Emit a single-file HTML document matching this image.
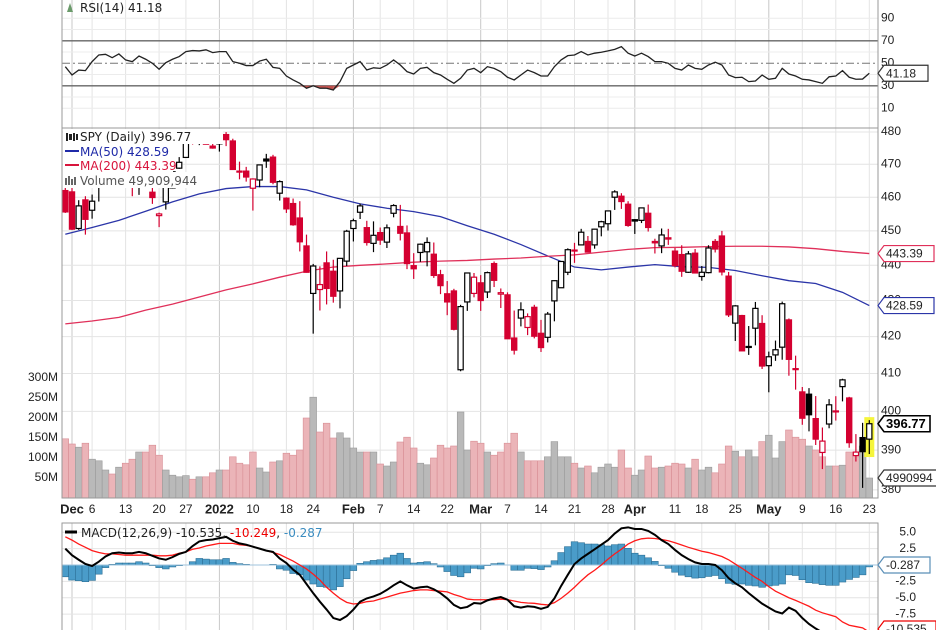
<!DOCTYPE html>
<html><head><meta charset="utf-8">
<style>
html,body{margin:0;padding:0;background:#fff;}
svg{display:block;font-family:"Liberation Sans",sans-serif;}
</style></head>
<body>
<svg id="chart" width="936" height="630" viewBox="0 0 936 630" xmlns="http://www.w3.org/2000/svg">
<defs>
<clipPath id="pclip"><rect x="62" y="129" width="816" height="369"/></clipPath>
<clipPath id="mclip"><rect x="62" y="523" width="816" height="107"/></clipPath>
</defs>
<g id="grid"></g>
<g id="rsi"></g>
<g id="vol" clip-path="url(#pclip)"></g>
<g id="ma" clip-path="url(#pclip)"></g>
<g id="candles" clip-path="url(#pclip)"></g>
<g id="macd" clip-path="url(#mclip)"></g>
<g id="frames">
  <rect x="62" y="-1" width="816" height="129" fill="none" stroke="#999" stroke-width="1"/>
  <rect x="62" y="128" width="816" height="370" fill="none" stroke="#999" stroke-width="1"/>
  <rect x="62" y="523" width="816" height="110" fill="none" stroke="#999" stroke-width="1"/>
</g>
<g id="legend" font-family="DejaVu Sans, sans-serif" font-size="12">
  <rect x="63" y="129" width="160" height="15" fill="#fff"/>
  <rect x="63" y="144" width="112" height="15" fill="#fff"/>
  <rect x="63" y="158" width="110" height="15" fill="#fff"/>
  <rect x="63" y="172" width="128" height="16" fill="#fff"/>
  <text x="80" y="141" fill="#222">SPY (Daily) 396.77</text>
  <g fill="#222"><rect x="66" y="133" width="2" height="8"/><rect x="69" y="134" width="3" height="6"/><rect x="73" y="133" width="2" height="8"/><rect x="76" y="134" width="2" height="6"/></g>
  <line x1="65" y1="151" x2="79" y2="151" stroke="#1f2aa8" stroke-width="2"/>
  <text x="80" y="156" fill="#1f2aa8">MA(50) 428.59</text>
  <line x1="65" y1="165" x2="79" y2="165" stroke="#d8143c" stroke-width="2"/>
  <text x="80" y="170" fill="#d8143c">MA(200) 443.39</text>
  <g fill="#666"><rect x="65" y="178" width="2" height="7"/><rect x="68" y="176" width="2" height="9"/><rect x="71" y="179" width="2" height="6"/><rect x="74" y="177" width="2" height="8"/></g>
  <text x="80" y="185" fill="#555">Volume 49,909,944</text>
</g>
<g id="rsilegend" font-family="DejaVu Sans, sans-serif" font-size="12">
  <polygon points="67,12 70,3 73,12" fill="#6a9a6a"/>
  <text x="80" y="12" fill="#222">RSI(14) 41.18</text>
</g>
<g id="macdlegend" font-family="DejaVu Sans, sans-serif" font-size="12">
  <line x1="65" y1="532" x2="77" y2="532" stroke="#000" stroke-width="3"/>
  <text x="81" y="537"><tspan fill="#222">MACD(12,26,9) -10.535, </tspan><tspan fill="#e00">-10.249</tspan><tspan fill="#222">, </tspan><tspan fill="#3a8cc0">-0.287</tspan></text>
</g>
<g id="axes"></g>
<g id="badges"></g>
</svg>
<script>
const dateLabels = ["Dec","6","13","20","27","2022","10","18","24","Feb","7","14","22","Mar","7","14","21","28","Apr","11","18","25","May","9","16","23"];
const dateLabelIdx = [1,4,9,14,18,23,28,33,37,43,47,52,57,62,66,71,76,81,85,91,95,100,105,110,115,120];
const boldLabels = ["Dec","2022","Feb","Mar","Apr","May"];
const openP = [462.0,461.6,450.7,459.2,456.1,464.4,468.7,468.2,469.2,470.2,463.1,463.4,472.6,461.5,454.5,458.6,462.8,468.8,472.1,477.7,477.0,477.9,475.6,476.3,479.2,477.2,467.9,467.9,462.7,465.2,471.6,472.2,461.2,459.7,458.1,453.8,445.6,432.0,433.1,440.7,438.3,432.7,441.2,450.7,455.5,450.95,446.35,449.5,446.7,455.2,451.3,449.4,439.9,443.7,443.9,443.2,437.3,431.9,432.7,411.0,429.6,432.0,435.0,432.4,440.5,431.8,431.6,419.6,425.1,422.5,428.1,420.9,419.8,429.9,433.6,438.0,444.3,445.9,446.9,445.9,451.2,452.1,460.0,460.3,457.9,453.3,453.1,455.2,446.9,445.6,447.97,444.1,443.1,438.0,443.5,436.8,437.9,446.9,448.5,436.9,423.7,425.8,417.2,422.3,423.6,412.1,415.0,417.1,424.6,411.1,405.1,404.5,398.1,389.4,396.7,399.98,406.5,403.5,388.6,393.2,392.8];
const highP = [464.0,464.7,459.1,460.3,460.8,468.9,470.0,469.6,470.9,470.6,465.7,470.9,472.9,464.2,455.4,463.2,467.8,472.2,477.3,478.8,478.6,479.0,477.0,477.9,479.98,477.9,470.8,469.2,465.7,469.9,473.2,472.9,465.1,459.96,459.6,458.8,448.9,440.4,439.7,444.0,441.6,442.0,450.3,453.6,458.1,452.97,452.8,450.99,451.9,457.9,457.7,451.6,443.5,446.3,448.1,446.6,438.7,435.5,433.3,428.8,437.8,437.8,437.2,438.2,441.1,433.4,432.3,427.2,429.5,426.4,428.8,424.6,426.8,435.7,441.1,444.9,446.5,450.6,448.5,450.6,452.98,455.9,462.1,461.2,458.8,453.5,456.9,457.8,447.7,450.7,450.6,445.0,445.8,444.1,444.7,439.8,445.8,447.6,450.0,438.1,428.7,426.0,422.9,429.6,425.9,415.9,418.9,429.7,425.0,414.8,406.4,406.1,404.0,395.8,403.2,403.97,408.6,403.8,394.1,397.0,397.7];
const lowP = [455.3,450.3,450.3,448.9,453.6,458.7,466.8,466.1,466.5,466.3,460.3,460.7,464.4,458.0,451.1,456.3,462.6,468.6,472.0,476.1,475.9,476.1,474.8,473.9,475.6,468.3,465.4,464.7,456.0,463.0,468.9,463.9,459.0,455.3,451.5,444.0,437.9,420.8,427.2,428.9,429.4,427.8,439.8,446.9,453.5,445.7,443.8,445.9,445.0,454.0,447.2,438.9,436.1,441.0,439.7,436.4,431.8,425.9,421.7,410.6,427.1,430.9,427.1,430.7,433.8,427.9,419.4,415.1,422.8,420.4,419.5,415.8,418.4,424.2,433.8,437.2,440.7,445.9,443.7,444.8,448.4,450.1,456.2,456.5,451.2,449.1,452.3,449.8,443.4,443.5,445.9,439.4,436.7,437.8,437.7,435.6,437.7,443.7,437.1,425.4,418.8,416.1,415.0,417.6,411.2,405.0,413.4,413.7,409.4,405.7,396.5,394.8,391.3,385.2,395.6,397.6,402.6,390.6,387.1,380.5,389.0];
const closeP = [455.6,450.5,457.4,453.4,458.8,468.3,469.5,466.4,470.7,466.6,463.4,470.6,466.5,459.9,455.0,463.1,467.7,470.6,477.3,476.9,477.5,476.2,475.0,477.7,477.6,468.4,467.9,466.1,465.5,469.8,471.0,464.5,464.7,456.5,451.8,446.8,438.0,439.8,434.5,433.4,431.2,442.0,449.9,453.0,457.4,446.6,448.7,447.3,450.9,457.5,449.3,440.5,439.0,446.1,446.6,437.1,434.2,429.6,422.0,428.3,437.8,436.6,430.0,437.9,435.7,432.2,419.4,416.3,427.4,425.5,420.1,417.0,426.2,435.6,441.1,444.5,444.4,449.6,443.8,450.5,452.7,455.9,461.6,458.7,451.6,452.9,456.8,451.0,446.5,448.8,447.6,439.9,438.3,443.3,437.8,438.0,445.0,444.7,438.1,426.0,428.5,416.1,417.3,427.8,412.0,414.5,416.4,429.1,413.8,411.3,398.2,399.1,392.8,392.3,401.7,400.1,408.3,391.9,389.5,389.6,396.77];
const volumeM = [148,135,127,137,97,93,70,60,77,87,97,115,115,132,107,70,57,53,56,47,53,53,63,70,70,103,87,83,115,75,65,90,93,112,107,120,200,252,165,187,150,163,150,125,115,115,115,85,80,90,140,152,125,87,83,100,132,125,130,215,120,142,137,115,107,115,137,162,115,93,93,93,103,141,103,103,87,75,80,63,77,85,77,120,75,57,70,105,75,77,80,87,85,75,97,70,77,63,85,130,117,103,120,103,141,157,100,141,170,152,147,130,120,103,80,80,82,115,103,130,50];
const rsiVals = [47,39.6,44,43.5,51.5,57.4,58,55,58.3,53,51.5,56.5,53.6,50,44.7,50.6,53.6,56,60.4,61.3,61,62,59.5,60.4,60.4,51.5,50,48,48,52,53.6,46.4,45.5,38.7,35.2,32.2,27.8,30,27.8,27.8,26.3,33.7,45.5,48.5,51.5,44,46,45.5,48.5,53,48.5,42.6,40.5,45.5,46.4,41.7,39.6,35.8,32.2,36.7,44,45.5,41.7,47,45.5,42.6,37.6,35.2,39.6,44,41.7,38.7,38.7,47,53,56.8,57.4,60.4,57.4,59,59.8,61,62.4,64.8,59,56.5,59,56,51.5,51.5,50,45.5,44,48.5,45.5,44.7,48.5,51,48.5,39.6,37.3,37.6,33.7,34.3,39.6,35.8,36.7,45.5,40.5,38.7,35.8,35.2,33.7,32.2,38,38.7,43.5,37.6,35.8,36,41.18];
const macdVals = [2.5,1.5,0.8,0.15,-0.15,0.5,1.3,1.8,1.9,1.8,1.8,2.0,1.8,1.4,1.0,0.8,1.2,1.7,2.0,2.9,3.6,3.8,3.9,4.1,4.3,3.7,3.3,3.1,2.8,2.5,2.2,2.0,1.0,0.3,-0.7,-1.5,-2.9,-4.3,-5.6,-6.8,-8.1,-8.4,-7.8,-6.8,-5.6,-5.1,-4.8,-4.4,-3.8,-3.1,-2.5,-3.1,-3.6,-3.4,-3.3,-3.7,-4.3,-5.1,-6.1,-6.6,-6.4,-5.8,-5.9,-5.4,-5.1,-4.9,-5.3,-6.3,-6.5,-6.3,-6.4,-6.7,-6.4,-5.1,-3.2,-1.5,0.15,1.0,1.7,2.4,3.1,3.8,4.8,5.6,5.75,5.5,5.5,5.2,4.6,3.8,3.2,2.3,1.5,0.9,0.4,0.15,0.15,0,-0.8,-2.0,-2.8,-3.4,-4.3,-5.1,-5.9,-6.5,-7.1,-7.4,-6.5,-7.0,-8.1,-9.0,-9.7,-10.3,-10.7,-11.0,-11.3,-11.4,-11.3,-11.1,-10.535];
const signalVals = [4.3,3.8,3.2,2.7,2.2,1.9,1.7,1.7,1.6,1.5,1.5,1.5,1.5,1.5,1.4,1.4,1.5,1.8,2.0,2.4,2.6,2.9,3.1,3.3,3.3,3.3,3.1,3.0,2.8,2.5,2.2,1.9,1.6,1.1,0.6,0,-0.6,-1.4,-2.3,-3.4,-4.3,-5.1,-5.7,-5.95,-5.85,-5.6,-5.5,-5.2,-4.9,-4.6,-4.3,-4.1,-3.9,-3.8,-3.8,-3.9,-4.0,-4.1,-4.5,-4.8,-5.2,-5.3,-5.3,-5.3,-5.3,-5.2,-5.3,-5.5,-5.7,-5.8,-5.85,-6.0,-6.1,-5.75,-5.1,-4.3,-3.4,-2.4,-1.5,-0.8,0,0.9,1.7,2.4,3.2,3.7,4.0,4.1,4.05,3.9,3.7,3.4,3.05,2.7,2.4,2.1,1.9,1.6,1.3,0.8,0.15,-0.5,-1.2,-1.9,-2.5,-3.3,-4.0,-4.5,-5.0,-5.4,-5.85,-6.3,-6.9,-7.3,-7.6,-7.9,-8.7,-9.2,-9.4,-9.6,-10.249];
const maStride = 4;
const ma50 = [449,451,453.1,455.8,458.6,461,462.6,463.2,463.2,462.2,460,458,456.7,455.7,454.2,451.5,449,446,442.7,439.5,438.7,439.5,440.2,439.6,439.4,438.5,437,435.6,434.8,432.3,428.59];
const ma200 = [423.5,424.3,425.3,427.3,429,431,433,434.7,436.6,438.3,439.5,440,440.4,440.9,441.2,441.4,441.8,442.1,442.6,443,443.8,444.6,445.1,445.2,445.4,445.5,445.5,445.3,444.8,444,443.39];
const priceTicks = [480,470,460,450,440,430,420,410,400,390,380];
const volTicks = [300,250,200,150,100,50];
const rsiTicks = [90,70,50,30,10];
const macdTicks = [5,2.5,0,-2.5,-5,-7.5,-10];
const macdTickLabels = ["5.0","2.5","","-2.5","-5.0","-7.5",""];

const NS = "http://www.w3.org/2000/svg";
const xOf = i => 65.3 + i * 6.7;
const yPrice = p => 132 + Math.log(480 / p) * 1532;
const yVol = v => 498 - v * 0.4;
const yRsi = v => 63.3 - (v - 50) * 1.125;
const yMacd = v => 565 - v * 6.55;
function mk(tag, attrs, parent) {
  const e = document.createElementNS(NS, tag);
  for (const k in attrs) e.setAttribute(k, attrs[k]);
  parent.appendChild(e);
  return e;
}
const G = id => document.getElementById(id);

const grid = G('grid');
dateLabelIdx.forEach((idx, k) => {
  const x = xOf(idx);
  const major = boldLabels.includes(dateLabels[k]);
  [[0,128],[128,498],[523,630]].forEach(([a,b]) => {
    const l = mk('line', {x1:x, x2:x, y1:a, y2:b, stroke: major ? '#c8c8c8' : '#e4e4e4', 'stroke-width':1}, grid);
    
    
  });
});
priceTicks.forEach(p => {
  const l = mk('line', {x1:62, x2:878, y1:yPrice(p), y2:yPrice(p), stroke:'#e4e4e4'}, grid);
  
  
});
[10,20,40,60,80,90].forEach(v => {
  mk('line', {x1:62, x2:878, y1:yRsi(v), y2:yRsi(v), stroke:'#ececec'}, grid);
});
macdTicks.forEach(v => {
  mk('line', {x1:62, x2:878, y1:yMacd(v), y2:yMacd(v), stroke:'#e4e4e4'}, grid);
});

const rsiG = G('rsi');
mk('line', {x1:62, x2:878, y1:yRsi(70), y2:yRsi(70), stroke:'#666', 'stroke-width':1.3}, rsiG);
mk('line', {x1:62, x2:878, y1:yRsi(30), y2:yRsi(30), stroke:'#666', 'stroke-width':1.3}, rsiG);
mk('line', {x1:62, x2:878, y1:yRsi(50), y2:yRsi(50), stroke:'#777', 'stroke-dasharray':'8,3,2,3'}, rsiG);
for (let i = 0; i < rsiVals.length - 1; i++) {
  if (rsiVals[i] < 30 || rsiVals[i+1] < 30) {
    const a = Math.min(rsiVals[i],30), b = Math.min(rsiVals[i+1],30);
    const f = mk('polygon', {points:`${xOf(i)},${yRsi(30)} ${xOf(i)},${yRsi(a)} ${xOf(i+1)},${yRsi(b)} ${xOf(i+1)},${yRsi(30)}`, fill:'#c0504d'}, rsiG);
    
    
  }
}
const rsiLine = mk('polyline', {points: rsiVals.map((v,i)=>`${xOf(i)},${yRsi(v)}`).join(' '), fill:'none', stroke:'#222', 'stroke-width':1.3}, rsiG);



const volG = G('vol');
volumeM.forEach((v, i) => {
  const prev = i > 0 ? closeP[i-1] : 464.6;
  const down = closeP[i] < prev;
  const b = mk('rect', {x: xOf(i) - 3.35, y: yVol(v), width: 6.7, height: 498 - yVol(v), fill: down ? '#ebb4b8' : '#b9b9b9', stroke: down ? '#d88e95' : '#999', 'stroke-width':0.6}, volG);
  
  
});

const maG = G('ma');
const m50 = mk('polyline', {points: ma50.map((v,k)=>`${xOf(k*maStride)},${yPrice(v)}`).join(' '), fill:'none', stroke:'#2b35a8', 'stroke-width':1.3}, maG);


const m200 = mk('polyline', {points: ma200.map((v,k)=>`${xOf(k*maStride)},${yPrice(v)}`).join(' '), fill:'none', stroke:'#e0305a', 'stroke-width':1.3}, maG);



const cG = G('candles');
const last = closeP.length - 1;
mk('rect', {x: xOf(last) - 5, y: yPrice(highP[last]) - 3, width: 10, height: yPrice(lowP[last]) - yPrice(highP[last]) + 6, fill:'#f5f53a'}, cG);
closeP.forEach((c, i) => {
  const o = openP[i], prev = i > 0 ? closeP[i-1] : 464.6;
  const col = c < prev ? '#d40030' : '#000';
  const x = xOf(i);
  const g = mk('g', {}, cG);
  
  
  mk('line', {x1:x, x2:x, y1:yPrice(highP[i]), y2:yPrice(lowP[i]), stroke:col, 'stroke-width':1.2}, g);
  const top = yPrice(Math.max(o,c)), bot = yPrice(Math.min(o,c));
  mk('rect', {x:x-2.6, y:top, width:5.2, height:Math.max(bot-top,1), fill: c < o ? col : '#fff', stroke:col, 'stroke-width':1.2}, g);
});

const mG = G('macd');
macdVals.forEach((v, i) => {
  const h = v - signalVals[i];
  const y0 = yMacd(0), y1 = yMacd(h);
  const b = mk('rect', {x:xOf(i)-3.35, y:Math.min(y0,y1), width:6.7, height:Math.abs(y1-y0), fill:'#4a9cc9', stroke:'#2c6f95', 'stroke-width':0.6}, mG);
  
  
});
mk('line', {x1:62, x2:878, y1:yMacd(0), y2:yMacd(0), stroke:'#9fc3dc', 'stroke-width':1}, mG);
const sl = mk('polyline', {points: signalVals.map((v,i)=>`${xOf(i)},${yMacd(v)}`).join(' '), fill:'none', stroke:'#ff1a1a', 'stroke-width':1.3}, mG);


const ml = mk('polyline', {points: macdVals.map((v,i)=>`${xOf(i)},${yMacd(v)}`).join(' '), fill:'none', stroke:'#000', 'stroke-width':2}, mG);



const ax = G('axes');
function txt(s, x, y, opts, parent) {
  const t = mk('text', Object.assign({x, y, 'font-size':12, fill:'#222', 'dominant-baseline':'middle'}, opts || {}), parent || ax);
  t.textContent = s;
  return t;
}
priceTicks.forEach(p => {
  const t = txt(String(p), 881, yPrice(p));
  
  
});
volTicks.forEach(v => {
  const t = txt(v + 'M', 58, yVol(v), {'text-anchor':'end'});
  
  
});
rsiTicks.forEach(v => {
  const t = txt(String(v), 881, yRsi(v));
  
  
});
macdTicks.forEach((v, k) => {
  if (!macdTickLabels[k]) return;
  const t = txt(macdTickLabels[k], 916, yMacd(v), {'text-anchor':'end'});
  
  
});
dateLabels.forEach((s, k) => {
  const bold = boldLabels.includes(s);
  const t = txt(s, xOf(dateLabelIdx[k]), 510, {'text-anchor':'middle', 'font-weight': bold ? 'bold' : 'normal', 'font-size': bold ? 13 : 12});
  
  
});

const bg = G('badges');
function badge(s, y, stroke, color, bold, w) {
  const g = mk('g', {}, bg);
  
  
  mk('polygon', {points:`878,${y} 884,${y-8} ${884+w},${y-8} ${884+w},${y+8} 884,${y+8}`, fill:'#fff', stroke, 'stroke-width': bold ? 1.6 : 1.2}, g);
  txt(s, 886, y + 1, {fill: color, 'font-weight': bold ? 'bold' : 'normal', 'font-size': bold ? 13 : 12}, g);
}
badge('41.18', yRsi(rsiVals[last]), '#333', '#222', false, 44);
badge(ma200[ma200.length-1].toFixed(2), yPrice(ma200[ma200.length-1]), '#e0305a', '#222', false, 50);
badge(ma50[ma50.length-1].toFixed(2), yPrice(ma50[ma50.length-1]), '#2b35a8', '#222', false, 50);
badge(closeP[last].toFixed(2), yPrice(closeP[last]), '#000', '#000', true, 46);
badge('4990994', yVol(volumeM[last]), '#333', '#222', false, 56);
badge('-0.287', yMacd(0), '#5a8fb8', '#222', false, 46);
badge('-10.535', 629, '#e00', '#222', false, 52);
</script>
</body></html>
